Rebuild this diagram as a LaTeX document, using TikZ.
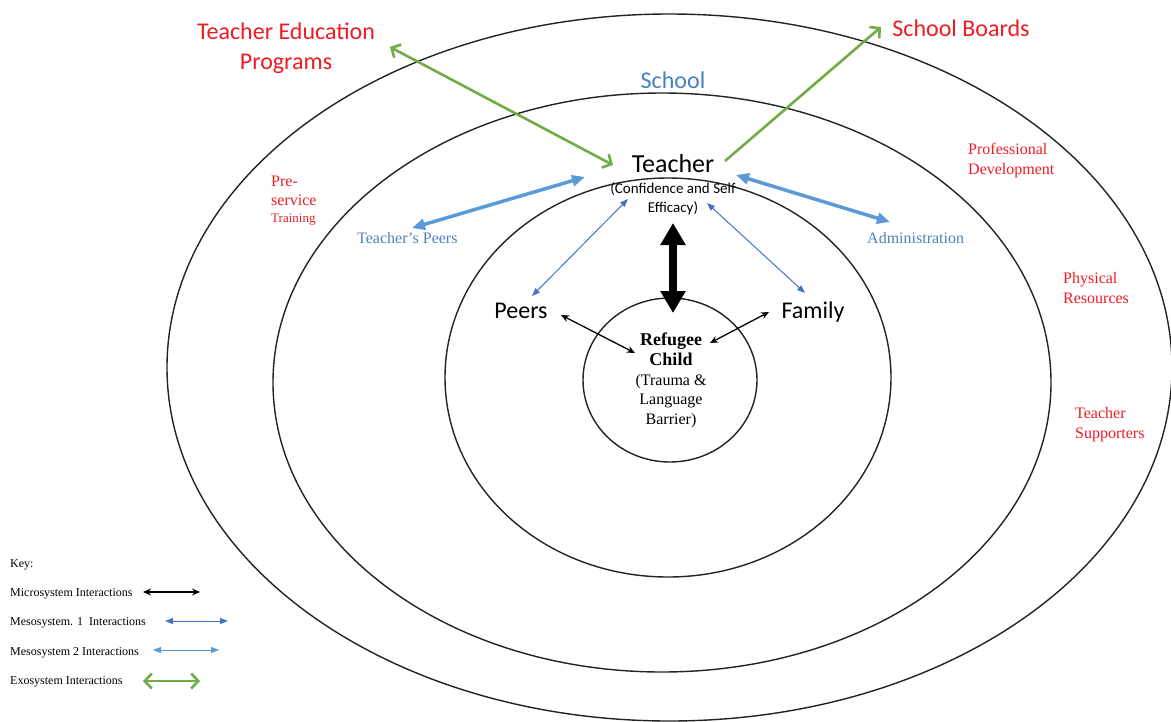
\documentclass[tikz,border=0pt]{standalone}
\usepackage{fontspec}
\setmainfont{Liberation Serif}
\newfontfamily\calib{Carlito}
\usetikzlibrary{arrows.meta}
\definecolor{myred}{RGB}{237,28,36}
\definecolor{exogreen}{RGB}{112,173,71}
\definecolor{mesoa}{RGB}{68,114,196}
\definecolor{mesob}{RGB}{91,155,213}
\definecolor{txtblue}{RGB}{79,129,189}
\definecolor{schoolblue}{RGB}{70,130,195}
\definecolor{ringgray}{RGB}{35,35,35}
\tikzset{
  ring/.style={draw=ringgray, line width=1.4pt},
  bigcal/.style={font=\calib\fontsize{24}{28}\selectfont, inner sep=0pt, anchor=base},
  redcal/.style={bigcal, text=myred, align=center},
  smallcal/.style={font=\calib\fontsize{15}{19}\selectfont, inner sep=0pt, anchor=base, align=center},
  redser/.style={font=\fontsize{16}{19.5}\selectfont, text=myred, inner sep=0pt, anchor=base west, align=left},
  blueser/.style={font=\fontsize{16}{19.5}\selectfont, text=txtblue, inner sep=0pt, anchor=base west},
  childtxt/.style={font=\fontsize{16}{19.5}\selectfont, inner sep=0pt, anchor=base, align=center},
  keytxt/.style={font=\fontsize{12}{14}\selectfont, inner sep=0pt, anchor=base west},
  exoarrow/.style={draw=exogreen, line width=2.6pt},
  exotip/.style={arrows={-Straight Barb[length=7pt,width=15pt]}},
  exotips/.style={arrows={Straight Barb[length=7pt,width=15pt]-Straight Barb[length=7pt,width=15pt]}},
  mesothick/.style={draw=mesob, line width=3.5pt, arrows={Triangle[length=13pt,width=11pt]-Triangle[length=13pt,width=11pt]}},
  mesothin/.style={draw=mesoa, line width=1pt, arrows={Triangle[length=8pt,width=6pt]-Triangle[length=8pt,width=6pt]}},
  mesothinb/.style={draw=mesob, line width=1pt, arrows={Triangle[length=8pt,width=6pt]-Triangle[length=8pt,width=6pt]}},
  microthin/.style={draw=black, line width=1.3pt, arrows={Stealth[length=8pt,width=7pt]-Stealth[length=8pt,width=7pt]}},
  microbig/.style={draw=black, line width=8pt, arrows={Triangle[length=22pt,width=24pt]-Triangle[length=22pt,width=24pt]}}
}
\begin{document}
\begin{tikzpicture}[x=1pt,y=-1pt]
\useasboundingbox (0,0) rectangle (1171,721);
\fill[white] (0,0) rectangle (1171,721);

% rings
\draw[ring] (669.5,367.5) ellipse [x radius=502.5pt, y radius=353.5pt];
\draw[ring] (662,382.5) ellipse [x radius=389pt, y radius=289.5pt];
\draw[ring] (668,377.5) ellipse [x radius=223pt, y radius=199.5pt];
\draw[ring] (670,380) ellipse [x radius=87pt, y radius=82pt];

% main labels (multi-line nodes are placed by the baseline of their last line)
\node[redcal] (tep) at (286,69) {Teacher Education\\[2pt]Programs};
\node[redcal] (sboards) at (961,36) {School Boards};
\node[bigcal, text=schoolblue] (school) at (673,88) {School};
\node[bigcal, font=\calib\fontsize{26}{30}\selectfont] (teacher) at (673,172) {Teacher};
\node[smallcal] (conf) at (673,212) {(Confidence and Self\\Efficacy)};
\node[bigcal] (peers) at (521,318) {Peers};
\node[bigcal] (family) at (813,318) {Family};
\node[childtxt] (child) at (671,424) {\textbf{\fontsize{18}{20}\selectfont Refugee}\\[1pt]\textbf{\fontsize{18}{20}\selectfont Child}\\(Trauma \&\\Language\\Barrier)};

\node[redser] (pre) at (271,222) {Pre-\\service\\[-3pt]{\fontsize{13}{15}\selectfont Training}};
\node[blueser] (tpeers) at (357,243) {Teacher’s Peers};
\node[blueser] (admin) at (867,243) {Administration};
\node[redser] (prof) at (968,174) {Professional\\Development};
\node[redser] (phys) at (1063,303) {Physical\\Resources};
\node[redser] (tsup) at (1075,438) {Teacher\\Supporters};

% arrow end points
\coordinate (tepTip) at (390,47);
\coordinate (tchG1) at (613,165);
\coordinate (tchG2) at (725,161);
\coordinate (sbTip) at (881,27);
\coordinate (tpTip) at (412,228);
\coordinate (tchB1) at (585,177);
\coordinate (tchB2) at (736,175);
\coordinate (adTip) at (890,222);
\coordinate (peTip) at (532,296);
\coordinate (tchM1) at (628,199);
\coordinate (faTip) at (805,293);
\coordinate (tchM2) at (707,203);
\coordinate (tchK) at (673,223);
\coordinate (chK) at (673,313);
\coordinate (peK) at (561,315);
\coordinate (chP) at (635,353);
\coordinate (faK) at (769,312);
\coordinate (chF) at (710,343);

% connectors
\draw[exoarrow, exotips] (tepTip) -- (tchG1);
\draw[exoarrow, exotip] (tchG2) -- (sbTip);
\draw[mesothick] (tpTip) -- (tchB1);
\draw[mesothick] (tchB2) -- (adTip);
\draw[mesothin] (peTip) -- (tchM1);
\draw[mesothin] (faTip) -- (tchM2);
\draw[microbig] (tchK) -- (chK);
\draw[microthin] (peK) -- (chP);
\draw[microthin] (faK) -- (chF);

% key
\node[keytxt] (key) at (10,567) {Key:};
\node[keytxt] (kmicro) at (10,596) {Microsystem Interactions};
\node[keytxt] (kmesoa) at (10,625) {Mesosystem. 1\ \ Interactions};
\node[keytxt] (kmesob) at (10,655) {Mesosystem 2 Interactions};
\node[keytxt] (kexo) at (10,684) {Exosystem Interactions};
\coordinate (km1) at (143,592); \coordinate (km2) at (200,592);
\coordinate (ka1) at (165,621); \coordinate (ka2) at (228,621);
\coordinate (kb1) at (153,650); \coordinate (kb2) at (219,650);
\coordinate (ke1) at (143,681); \coordinate (ke2) at (200,681);
\draw[microthin] (km1) -- (km2);
\draw[mesothin] (ka1) -- (ka2);
\draw[mesothinb] (kb1) -- (kb2);
\draw[exoarrow, exotips] (ke1) -- (ke2);
\end{tikzpicture}
\end{document}
